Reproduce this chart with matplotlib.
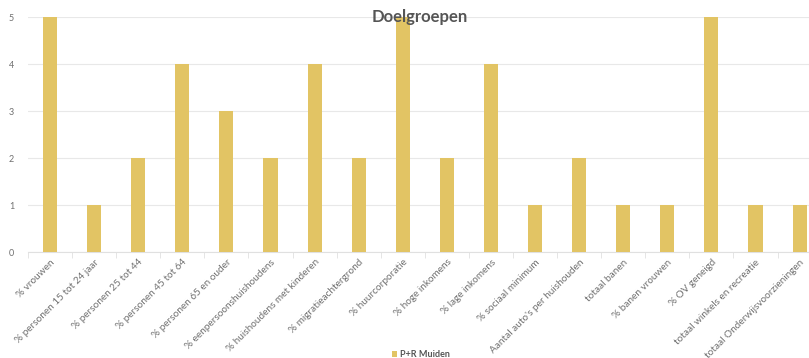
import matplotlib.pyplot as plt
from matplotlib.ticker import FixedLocator

# Target-group scores for P+R Muiden
LABELS = [
    "% vrouwen",
    "% personen 15 tot 24 jaar",
    "% personen 25 tot 44",
    "% personen 45 tot 64",
    "% personen 65 en ouder",
    "% eenpersoonshuishoudens",
    "% huishoudens met kinderen",
    "% migratieachtergrond",
    "% huurcorporatie",
    "% hoge inkomens",
    "% lage inkomens",
    "% sociaal minimum",
    "Aantal auto's per huishouden",
    "totaal banen",
    "% banen vrouwen",
    "% OV geneigd",
    "totaal winkels en recreatie",
    "totaal Onderwijsvoorzieningen",
]
SCORES = [5, 1, 2, 4, 3, 2, 4, 2, 5, 2, 4, 1, 2, 1, 1, 5, 1, 1]
SERIES = "P+R Muiden"
TITLE = "Doelgroepen"

BAR_COLOR = "#E2C464"
TEXT_GRAY = "#707070"

plt.rcParams["font.family"] = ["Lato", "DejaVu Sans"]

fig = plt.figure(figsize=(8.09, 3.58), dpi=100)
ax = fig.add_axes([0.0346, 0.296, 0.981, 0.656])

x = list(range(len(LABELS)))
ax.bar(x, SCORES, width=0.32, color=BAR_COLOR, label=SERIES, zorder=3)

ax.set_xlim(-0.5, len(LABELS) - 0.5)
ax.set_ylim(0, 5)
ax.set_yticks(range(6))
ax.grid(axis="y", color="#e8e8e8", linewidth=0.8, zorder=0)

ax.set_xticks(x)
ax.set_xticklabels(LABELS, rotation=45, ha="right", rotation_mode="anchor",
                   fontsize=7.2, color=TEXT_GRAY)
ax.tick_params(axis="x", which="major", length=0, pad=4)
ax.xaxis.set_minor_locator(FixedLocator([i - 0.5 for i in range(len(LABELS) + 1)]))
ax.tick_params(axis="x", which="minor", length=4, color="#e0e0e0")
ax.tick_params(axis="y", length=0, labelsize=6.5, labelcolor=TEXT_GRAY, pad=10)

for side in ("top", "right", "left"):
    ax.spines[side].set_visible(False)
ax.spines["bottom"].set_color("#e0e0e0")

fig.text(0.519, 0.952, TITLE, ha="center", va="center", fontsize=12,
         fontweight="bold", color="#555555")

leg = fig.legend(loc="lower center", bbox_to_anchor=(0.52, -0.025),
                 frameon=False, fontsize=6.5, handlelength=0.6,
                 handleheight=0.6, labelcolor="#555555", handletextpad=0.3)
for t in leg.get_texts():
    t.set_fontweight("bold")

fig.savefig("out.png", dpi=100)
